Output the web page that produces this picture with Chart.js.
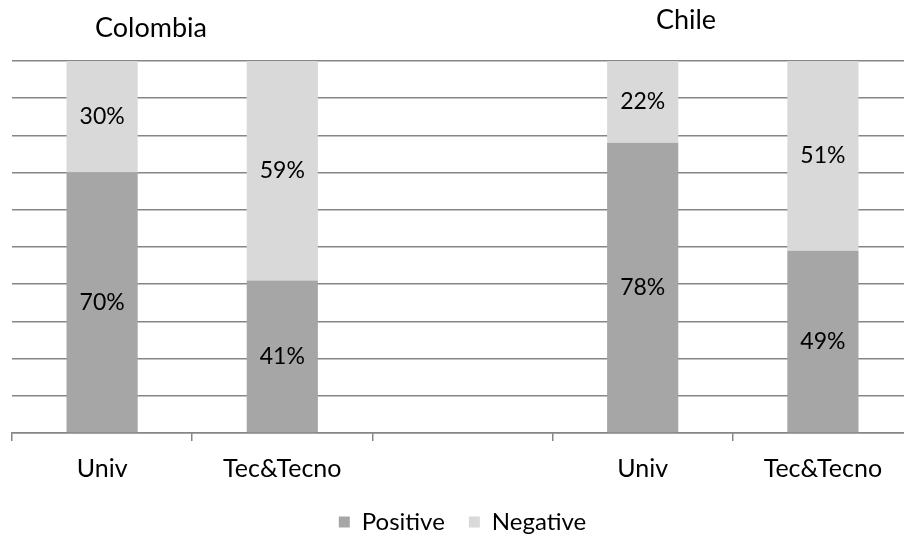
<!DOCTYPE html>
<html>
<head>
<meta charset="utf-8">
<script src="https://cdn.jsdelivr.net/npm/chart.js@4"></script>
<style>
  html, body { margin: 0; padding: 0; background: #fff; overflow: hidden; }
  #wrap { width: 913px; height: 538px; }
</style>
</head>
<body>
<div id="wrap"><canvas id="myChart"></canvas></div>
<script>
const labels = ['Univ', 'Tec&Tecno', '', 'Univ', 'Tec&Tecno'];
const positive = [70, 41, null, 78, 49];
const negative = [30, 59, null, 22, 51];
const groupTitles = ['Colombia', 'Chile'];

const FONT = 'Lato, "Open Sans", sans-serif';

// percent labels in the middle of each segment
const segmentLabels = {
    id: 'segmentLabels',
    afterDatasetsDraw(chart) {
        const c = chart.ctx;
        c.save();
        c.font = '23px ' + FONT;
        c.fillStyle = '#000';
        c.textAlign = 'center';
        c.textBaseline = 'middle';
        chart.data.datasets.forEach((ds, i) => {
            chart.getDatasetMeta(i).data.forEach((bar, j) => {
                if (ds.data[j] == null) return;
                const mid = (bar.y + bar.base) / 2;
                c.fillText(ds.data[j] + '%', bar.x, mid);
            });
        });
        c.restore();
    }
};

// country names above the groups
const groupHeads = {
    id: 'groupHeads',
    afterDraw(chart) {
        const c = chart.ctx;
        c.save();
        c.font = '27px ' + FONT;
        c.fillStyle = '#000';
        c.textAlign = 'center';
        c.textBaseline = 'alphabetic';
        c.fillText(groupTitles[0], 151, 37);
        c.fillText(groupTitles[1], 686, 29);
        c.restore();
    }
};

new Chart(document.getElementById('myChart'), {
    type: 'bar',
    data: {
        labels: labels,
        datasets: [
            { label: 'Positive', data: positive, backgroundColor: '#a6a6a6' },
            { label: 'Negative', data: negative, backgroundColor: '#d9d9d9' }
        ]
    },
    options: {
        responsive: true,
        maintainAspectRatio: false,
        animation: false,
        barPercentage: 0.79,
        categoryPercentage: 0.5,
        layout: { padding: { top: 61, left: 12, right: 0, bottom: -6 } },
        plugins: {
            legend: {
                position: 'bottom',
                labels: {
                    boxWidth: 11,
                    boxHeight: 11,
                    padding: 24,
                    color: '#000',
                    font: { family: FONT, size: 24 }
                }
            },
            tooltip: { enabled: false }
        },
        scales: {
            x: {
                stacked: true,
                afterFit: (scale) => { scale.height = 53; },
                grid: {
                    offset: true,
                    drawOnChartArea: false,
                    drawTicks: true,
                    tickLength: 8,
                    color: '#868686',
                    lineWidth: 1.5
                },
                border: { color: '#868686', width: 1.5 },
                ticks: {
                    color: '#000',
                    padding: 13,
                    font: { family: FONT, size: 25 }
                }
            },
            y: {
                stacked: true,
                min: 0,
                max: 100,
                ticks: { display: false, stepSize: 10 },
                grid: { color: '#868686', lineWidth: 1.5, drawTicks: false },
                border: { display: false }
            }
        }
    },
    plugins: [segmentLabels, groupHeads]
});
</script>
</body>
</html>
